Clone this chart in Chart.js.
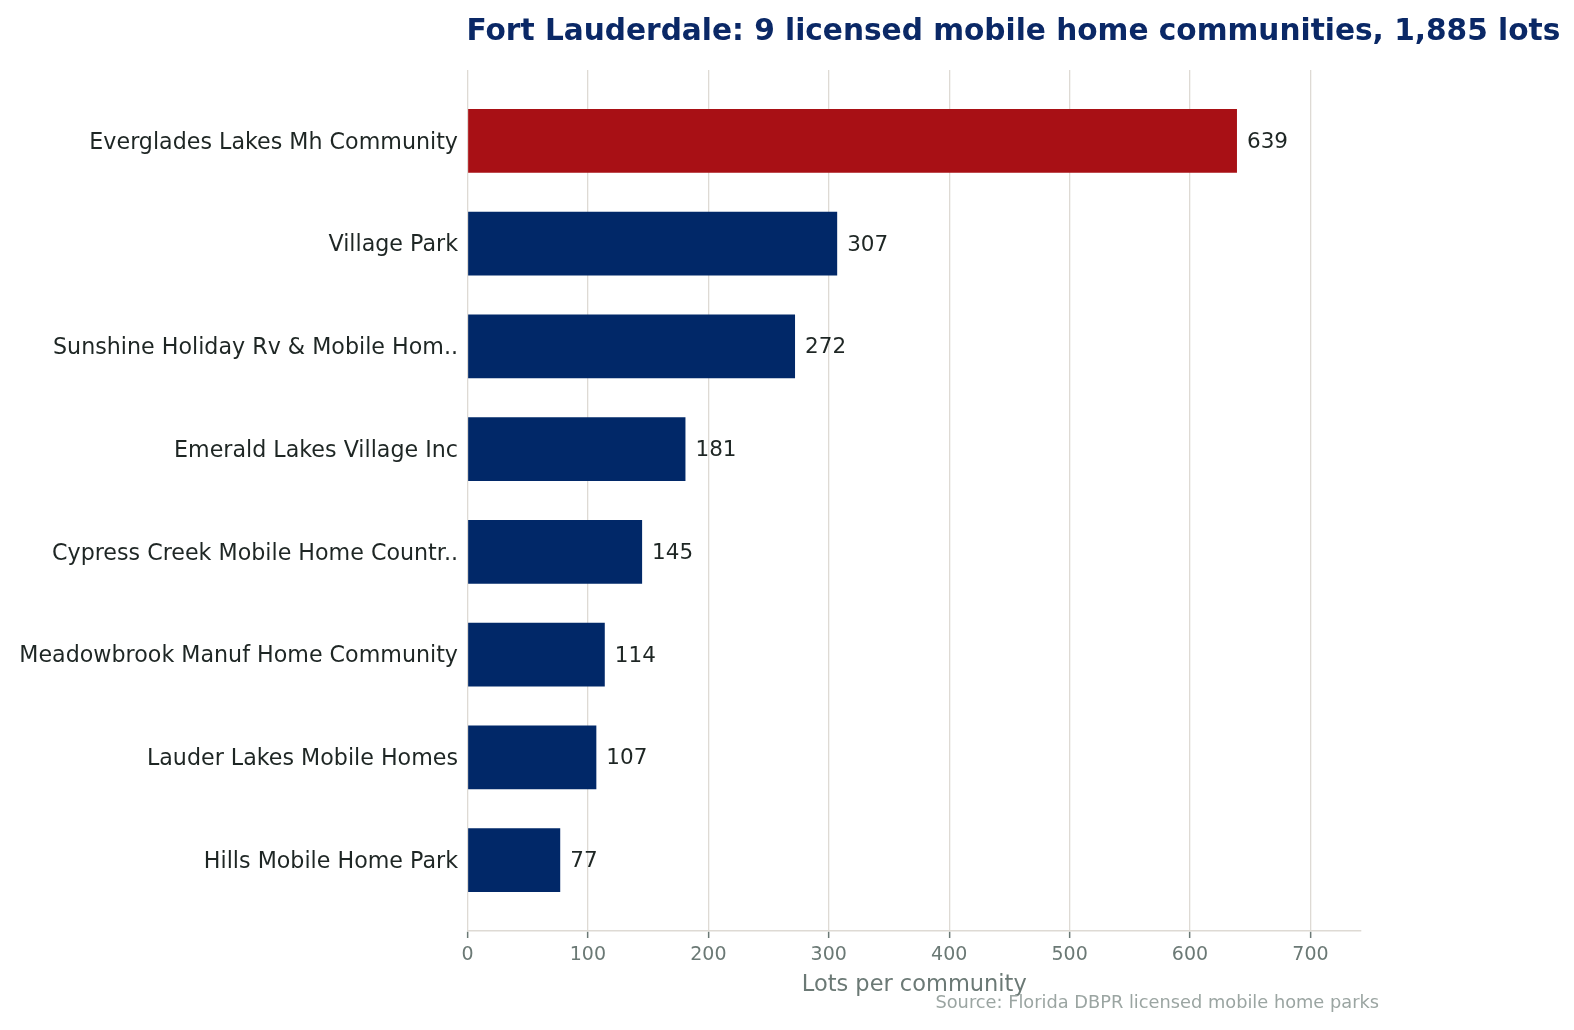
<!DOCTYPE html>
<html>
<head>
<meta charset="utf-8">
<script src="https://cdn.jsdelivr.net/npm/chart.js@4.4.1/dist/chart.umd.min.js"></script>
<style>
  body { margin: 0; background: #fff; }
  #wrap { width: 1574px; height: 1030px; }
</style>
</head>
<body>
<div id="wrap"><canvas id="lotsChart" width="1574" height="1030"></canvas></div>
<script>
// data
const communities = [
  "Everglades Lakes Mh Community",
  "Village Park",
  "Sunshine Holiday Rv & Mobile Hom..",
  "Emerald Lakes Village Inc",
  "Cypress Creek Mobile Home Countr..",
  "Meadowbrook Manuf Home Community",
  "Lauder Lakes Mobile Homes",
  "Hills Mobile Home Park"
]
const lots = [639, 307, 272, 181, 145, 114, 107, 77]
const xTicks = [0, 100, 200, 300, 400, 500, 600, 700]

const titleText = "Fort Lauderdale: 9 licensed mobile home communities, 1,885 lots"
const xTitle = "Lots per community"
const sourceText = "Source: Florida DBPR licensed mobile home parks"

const NAVY = "#012868"
const RED = "#a81015"
const GRID = "#dedad4"
const TICK_GREY = "#6b7975"
const FONT = "'DejaVu Sans', Verdana, sans-serif"

// largest community highlighted in red
const barColors = lots.map((v) => v === Math.max(...lots) ? RED : NAVY)

const points = lots.map((v, i) => ({ x: v, y: i }))

// value labels, title and source note
const textPlugin = {
  id: "textPlugin",
  afterDatasetsDraw(chart) {
    const ctx = chart.ctx
    const meta = chart.getDatasetMeta(0)
    ctx.save()
    ctx.font = `21.5px ${FONT}`
    ctx.fillStyle = "#1e2624"
    ctx.textAlign = "left"
    ctx.textBaseline = "middle"
    meta.data.forEach((bar, i) => {
      ctx.fillText(String(lots[i]), bar.x + 10, bar.y + 1.5)
    })
    ctx.restore()
  },
  afterDraw(chart) {
    const ctx = chart.ctx
    const area = chart.chartArea
    ctx.save()
    ctx.textBaseline = "alphabetic"
    ctx.font = `bold 29.6px ${FONT}`
    ctx.fillStyle = "#0a2866"
    ctx.textAlign = "left"
    ctx.fillText(titleText, area.left - 1, 40)

    ctx.font = `22.5px ${FONT}`
    ctx.fillStyle = TICK_GREY
    ctx.textAlign = "center"
    ctx.fillText(xTitle, (area.left + area.right) / 2, 991)

    ctx.font = `17.8px ${FONT}`
    ctx.fillStyle = "#9ba5a2"
    ctx.textAlign = "right"
    ctx.fillText(sourceText, 1379, 1008)
    ctx.restore()
  }
}

const ctx = document.getElementById("lotsChart").getContext("2d")
const lotsChart = new Chart(ctx, {
  type: "bar",
  data: {
    datasets: [{
      label: "Lots",
      data: points,
      backgroundColor: barColors,
      borderWidth: 0,
      categoryPercentage: 1,
      barPercentage: 0.62
    }]
  },
  options: {
    indexAxis: "y",
    responsive: false,
    animation: false,
    devicePixelRatio: 1,
    layout: {
      padding: { top: 70, right: 213, bottom: 0, left: 0 }
    },
    scales: {
      x: {
        type: "linear",
        min: 0,
        max: 742,
        afterFit(scale) { scale.height = 99 },
        afterBuildTicks(scale) {
          scale.ticks = xTicks.map((v) => ({ value: v }))
        },
        grid: {
          color: GRID,
          lineWidth: 1.3,
          drawTicks: true,
          tickLength: 7,
          tickColor: TICK_GREY,
          tickWidth: 1.5
        },
        border: { display: true, color: GRID, width: 1.6 },
        ticks: {
          includeBounds: false,
          color: TICK_GREY,
          padding: 6,
          font: { family: FONT, size: 19 }
        }
      },
      y: {
        type: "linear",
        reverse: true,
        offset: false,
        min: -0.69,
        max: 7.69,
        afterFit(scale) { scale.width = 467.5 },
        afterBuildTicks(scale) {
          scale.ticks = communities.map((c, i) => ({ value: i }))
        },
        grid: { display: false, drawTicks: false, offset: false },
        border: { display: false },
        ticks: {
          color: "#1e2624",
          padding: 9.5,
          labelOffset: 2,
          font: { family: FONT, size: 22.2 },
          callback(value) { return communities[value] }
        }
      }
    },
    plugins: {
      legend: { display: false },
      tooltip: { enabled: false },
      title: { display: false }
    }
  },
  plugins: [textPlugin]
})
</script>
</body>
</html>
